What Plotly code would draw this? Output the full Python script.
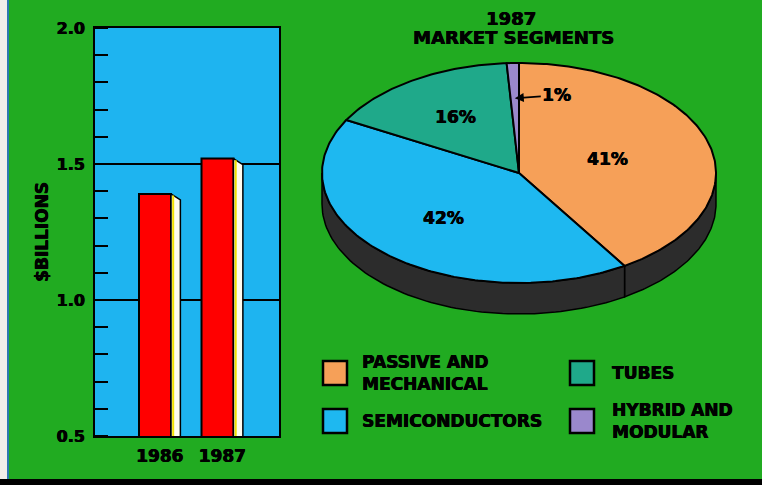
import numpy as np
import plotly.graph_objects as go

# ---- data -------------------------------------------------------------
years = ["1986", "1987"]
sales_billions = [1.39, 1.52]
y_tick_values = [0.5, 1.0, 1.5, 2.0]

segments = ["PASSIVE AND MECHANICAL", "SEMICONDUCTORS", "TUBES", "HYBRID AND MODULAR"]
segment_share = [41, 42, 16, 1]          # percent of 1987 market
segment_colors = ["#f6a058", "#1eb8f0", "#1fa98a", "#9a88cc"]

# ---- page geometry helpers (pixels -> paper fractions) ----------------
W, H = 762, 485
GREEN = "#21ab21"
PANEL_BLUE = "#1eb4f0"
HEAVY = "0.6px 0 0 black, -0.2px 0 0 black"
FONT = dict(family="DejaVu Sans", size=17, color="black", weight="bold", shadow=HEAVY)


def fx(px):
    return px / W


def fy(py):
    return 1 - py / H


fig = go.Figure()

# ---- bar chart with a 3-D side face -----------------------------------
bar_pos = list(range(len(years)))
BAR_W = 0.512
SIDE_W = 0.15
SIDE_DROP = 0.022

fig.add_trace(go.Bar(
    x=bar_pos, y=sales_billions, width=BAR_W,
    marker=dict(color="#ff0000", line=dict(color="black", width=2)),
    xaxis="x", yaxis="y", showlegend=False, hoverinfo="skip",
))
for xp, v in zip(bar_pos, sales_billions):
    x0 = xp + BAR_W / 2
    x1 = x0 + SIDE_W
    fig.add_trace(go.Scatter(
        x=[x0, x0, x1, x1, x0], y=[0, v, v - SIDE_DROP, 0, 0],
        fill="toself", fillcolor="#fffdf0", mode="lines",
        line=dict(color="black", width=1.5),
        xaxis="x", yaxis="y", showlegend=False, hoverinfo="skip",
    ))
    fig.add_trace(go.Scatter(
        x=[x0 + 0.035, x0 + 0.035], y=[0, v - 0.006],
        mode="lines", line=dict(color="#f2e200", width=2),
        xaxis="x", yaxis="y", showlegend=False, hoverinfo="skip",
    ))

# ---- elliptical 3-D pie -----------------------------------------------
PIE_CX, PIE_CY, PIE_R = 519, 173, 197      # pixel centre and x radius
RY = 110 / PIE_R                           # y radius in x-radius units
DEPTH = 31 / PIE_R
BAND = "#2c2c2c"


def rim(theta_deg, drop=0.0, r=1.0):
    t = np.radians(theta_deg)
    return r * np.sin(t), r * RY * np.cos(t) - drop


bounds = np.concatenate([[0], np.cumsum(segment_share)]) * 3.6

# side band (front half only: 90..270 degrees)
for i in range(len(segments)):
    a, b = max(bounds[i], 90), min(bounds[i + 1], 270)
    if a >= b:
        continue
    th = np.linspace(a, b, 80)
    tx, ty = rim(th)
    bx, by = rim(th[::-1], drop=DEPTH)
    fig.add_trace(go.Scatter(
        x=np.concatenate([tx, bx, tx[:1]]), y=np.concatenate([ty, by, ty[:1]]),
        fill="toself", fillcolor=BAND, mode="lines",
        line=dict(color="black", width=1.5),
        xaxis="x2", yaxis="y2", showlegend=False, hoverinfo="skip",
    ))

# top faces
for i, (name, col) in enumerate(zip(segments, segment_colors)):
    th = np.linspace(bounds[i], bounds[i + 1], max(4, int(segment_share[i] * 4)))
    ax_, ay_ = rim(th)
    fig.add_trace(go.Scatter(
        x=np.concatenate([[0], ax_, [0]]), y=np.concatenate([[0], ay_, [0]]),
        fill="toself", fillcolor=col, mode="lines",
        line=dict(color="black", width=2),
        xaxis="x2", yaxis="y2", showlegend=False, name=name, hoverinfo="skip",
    ))

# percentage labels
label_r = [0.47, 0.56, 0.6]
annotations = []
for i in range(3):
    mid = (bounds[i] + bounds[i + 1]) / 2
    lx, ly = rim(mid, r=label_r[i])
    annotations.append(dict(
        x=lx, y=ly, xref="x2", yref="y2", text=f"{segment_share[i]}%",
        showarrow=False, font=FONT, xanchor="center", yanchor="middle",
    ))
mid = (bounds[3] + bounds[4]) / 2
tx_, ty_ = rim(mid, r=0.68)
annotations.append(dict(
    x=tx_, y=ty_, xref="x2", yref="y2", text=f"{segment_share[3]}%",
    showarrow=True, ax=42, ay=-3, arrowhead=2, arrowsize=1, arrowwidth=1.8,
    arrowcolor="black", font=FONT,
))

# pie title
TITLE_FONT = dict(FONT, size=18)
annotations.append(dict(x=fx(511), y=fy(19), xref="paper", yref="paper", text="1987",
                        showarrow=False, font=TITLE_FONT, xanchor="center", yanchor="middle"))
annotations.append(dict(x=fx(513), y=fy(38), xref="paper", yref="paper",
                        text="MARKET SEGMENTS", showarrow=False, font=TITLE_FONT,
                        xanchor="center", yanchor="middle"))

# ---- legend (two columns) ---------------------------------------------
shapes = []
SW = 24
col_x = [323, 570]
text_x = [360, 610]
row_y = [361, 409]
for i, (name, col) in enumerate(zip(segments, segment_colors)):
    c, r = i // 2, i % 2
    x0, y0 = col_x[c], row_y[r]
    shapes.append(dict(type="rect", xref="paper", yref="paper",
                       x0=fx(x0), x1=fx(x0 + SW), y0=fy(y0 + SW), y1=fy(y0),
                       fillcolor=col, line=dict(color="black", width=2.5)))
    annotations.append(dict(
        x=fx(text_x[c]), y=fy(y0 + SW / 2), xref="paper", yref="paper",
        text=name.replace(" AND ", " AND<br>"), showarrow=False,
        xanchor="left", yanchor="middle", align="left", font=FONT,
    ))

# blue panel behind the bar chart, and the page edges
shapes.insert(0, dict(type="rect", xref="x domain", yref="y domain", x0=0, x1=1, y0=0, y1=1,
                      fillcolor=PANEL_BLUE, line=dict(width=0), layer="below"))
shapes.append(dict(type="rect", xref="paper", yref="paper", x0=0, x1=1, y0=0, y1=fy(479),
                   fillcolor="black", line=dict(width=0)))
shapes.append(dict(type="rect", xref="paper", yref="paper", x0=0, x1=fx(7), y0=fy(479), y1=1,
                   fillcolor="#f2eeea", line=dict(width=0)))
shapes.append(dict(type="rect", xref="paper", yref="paper", x0=fx(7), x1=fx(9), y0=fy(479), y1=1,
                   fillcolor="#2f78b0", line=dict(width=0)))

fig.update_layout(
    width=W, height=H,
    margin=dict(l=0, r=0, t=0, b=0, pad=0, autoexpand=False),
    paper_bgcolor=GREEN, plot_bgcolor="rgba(0,0,0,0)",
    font=FONT,
    xaxis=dict(
        domain=[fx(95), fx(279)], range=[-0.96, 1.984],
        tickvals=[p + SIDE_W / 2 for p in bar_pos], ticktext=years,
        showgrid=False, zeroline=False, ticks="", ticklabelstandoff=4,
        showline=True, mirror=True, linecolor="black", linewidth=2,
        tickfont=FONT, fixedrange=True, automargin=False,
    ),
    yaxis=dict(
        domain=[fy(436), fy(28)], range=[0.5, 2.0],
        tickvals=y_tick_values, ticktext=[f"{v:.1f}" for v in y_tick_values],
        showgrid=True, gridcolor="black", gridwidth=1.5, zeroline=False,
        ticks="", ticklabelstandoff=5,
        minor=dict(dtick=0.1, ticks="inside", ticklen=13, tickwidth=2,
                   tickcolor="black", showgrid=False),
        showline=True, mirror=True, linecolor="black", linewidth=2,
        tickfont=dict(FONT, size=16),
        title=dict(text="$BILLIONS", font=FONT, standoff=4),
        fixedrange=True, automargin=False,
    ),
    xaxis2=dict(
        domain=[fx(300), fx(740)],
        range=[(300 - PIE_CX) / PIE_R, (740 - PIE_CX) / PIE_R],
        visible=False, fixedrange=True,
    ),
    yaxis2=dict(
        domain=[fy(330), fy(50)],
        range=[(PIE_CY - 330) / PIE_R, (PIE_CY - 50) / PIE_R],
        visible=False, fixedrange=True,
    ),
    shapes=shapes,
    annotations=annotations,
)

fig.write_html("out.html")
